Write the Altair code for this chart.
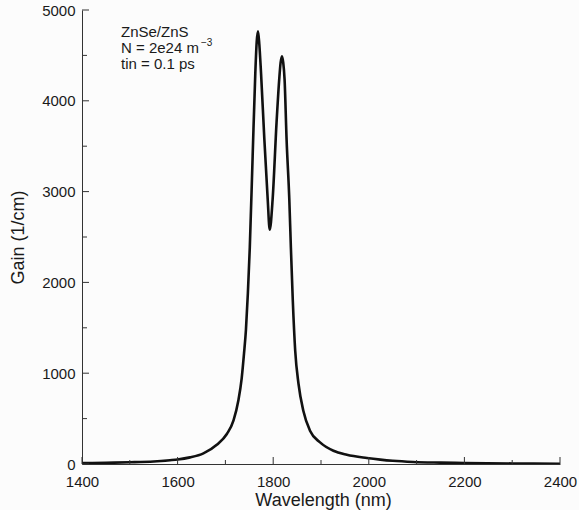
import altair as alt
import pandas as pd

# ---- data ----
wavelength = [1400, 1450, 1500, 1550, 1584, 1600, 1626, 1654, 1682, 1703, 1717, 1727,
              1734, 1739, 1743, 1747, 1751, 1757, 1762.6, 1765.5, 1768.2, 1771, 1774.5,
              1781.5, 1788.5, 1792.7, 1798.8, 1807, 1812.6, 1815.5, 1818.4, 1821, 1823.8,
              1828, 1833.7, 1837, 1841, 1846, 1853, 1863, 1877, 1898, 1926, 1954, 1996,
              2024, 2050, 2093, 2150, 2200, 2300, 2400]
gain = [10, 14, 19, 28, 42, 50, 73, 117, 212, 330, 480, 697,
        940, 1220, 1480, 1880, 2380, 3390, 4310, 4650, 4765, 4620, 4310,
        3575, 2914, 2580, 2914, 3759, 4236, 4420, 4490, 4420, 4236,
        3575, 2914, 2383, 1800, 1250, 881, 587, 367, 238, 146, 102, 66,
        48, 35, 22, 15, 11, 6, 3]

x_major = [1400, 1600, 1800, 2000, 2200, 2400]
x_minor = [1500, 1700, 1900, 2100, 2300]
y_major = [0, 1000, 2000, 3000, 4000, 5000]
y_minor = [500, 1500, 2500, 3500, 4500]
notes = ["ZnSe/ZnS", "N = 2e24 m", "tin = 0.1 ps"]
superscript = "\u22123"

W, H = 478, 454
FONT = "Liberation Sans"
INK = "#1a1a1a"
AXIS = "#333333"

df = pd.DataFrame({"wavelength": wavelength, "gain": gain})
xscale = alt.Scale(domain=[1400, 2400], nice=False, zero=False)
yscale = alt.Scale(domain=[0, 5000], nice=False)

xaxis = alt.Axis(
    values=x_major, format="d", title="Wavelength (nm)", grid=False, ticks=False,
    domainColor=AXIS, domainWidth=1, labelFont=FONT, labelFontSize=15,
    labelColor=INK, labelPadding=10, labelFlush=False,
    titleFont=FONT, titleFontSize=18, titleFontWeight="normal", titleColor=INK,
    titleX=W / 2 + 2, titleY=41, titleBaseline="alphabetic", titleAnchor="middle")
yaxis = alt.Axis(
    values=y_major, format="d", title="Gain (1/cm)", grid=False, ticks=False,
    domainColor=AXIS, domainWidth=1, labelFont=FONT, labelFontSize=15,
    labelColor=INK, labelPadding=7, labelFlush=False, labelBaseline="middle",
    titleFont=FONT, titleFontSize=18, titleFontWeight="normal", titleColor=INK,
    titleAngle=270, titleX=-55, titleY=H / 2, titleBaseline="bottom",
    titleAlign="center")

line = alt.Chart(df).mark_line(
    color="#111111", strokeWidth=2.6, interpolate="monotone", clip=True
).encode(
    x=alt.X("wavelength:Q", scale=xscale, axis=xaxis),
    y=alt.Y("gain:Q", scale=yscale, axis=yaxis),
)

def xticks(vals, length):
    return alt.Chart(pd.DataFrame({"wavelength": vals})).mark_rule(
        color=AXIS, strokeWidth=1
    ).encode(
        x=alt.X("wavelength:Q", scale=xscale, axis=xaxis),
        y=alt.value(H), y2=alt.value(H - length),
    )

def yticks(vals, length):
    return alt.Chart(pd.DataFrame({"gain": vals})).mark_rule(
        color=AXIS, strokeWidth=1
    ).encode(
        y=alt.Y("gain:Q", scale=yscale, axis=yaxis),
        x=alt.value(0), x2=alt.value(length),
    )

note = alt.Chart(pd.DataFrame({"a": [0]})).mark_text(
    align="left", baseline="alphabetic", font=FONT, fontSize=15,
    color=INK, lineHeight=16
).encode(x=alt.value(39), y=alt.value(27), text=alt.value(notes))

sup = alt.Chart(pd.DataFrame({"a": [0]})).mark_text(
    align="left", baseline="alphabetic", font=FONT, fontSize=10, color=INK
).encode(x=alt.value(119), y=alt.value(36), text=alt.value(superscript))

chart = alt.layer(
    line, xticks(x_major, 7), xticks(x_minor, 4), yticks(y_major, 7), yticks(y_minor, 5),
    note, sup
).properties(
    width=W, height=H,
    autosize=alt.AutoSizeParams(type="none"),
    padding={"left": 82, "top": 10, "right": 19, "bottom": 46},
    background="#fcfcfc",
).configure_view(stroke=None)

chart.save("out.html", embed_options={"renderer": "svg", "actions": False})
